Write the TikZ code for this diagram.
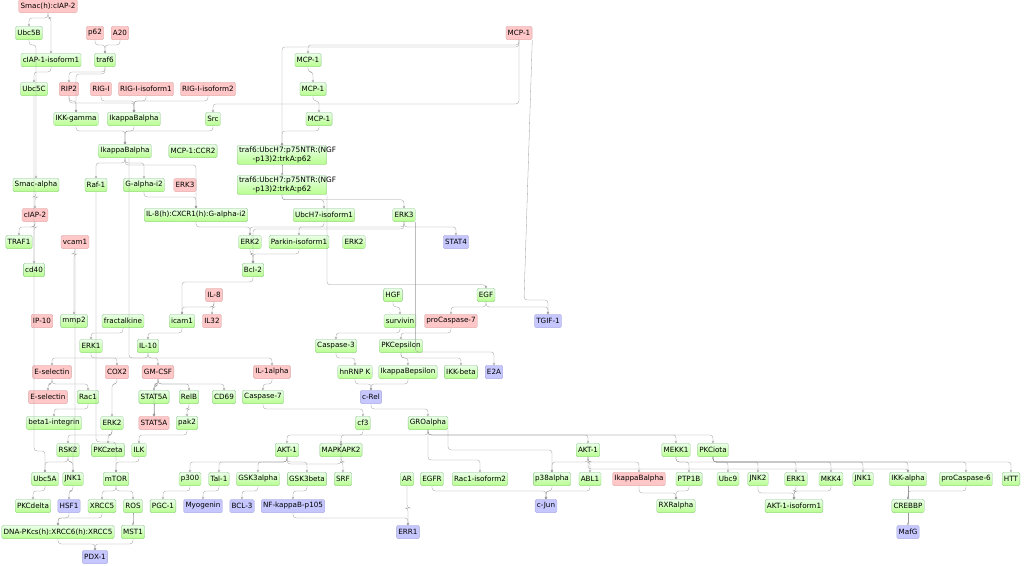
\documentclass[tikz,border=0pt]{standalone}
\usepackage{fontspec}
\setmainfont{DejaVu Sans}
\usetikzlibrary{arrows.meta}
\begin{document}
\begin{tikzpicture}[x=1pt,y=-1pt,
 base/.style={rounded corners=1.5pt,inner sep=1.8pt,minimum height=13.5pt,font=\fontsize{7.2}{8}\selectfont,line width=0.3pt},
 g/.style={base,top color=green!8!white,bottom color=green!50!lime!45!white,draw=green!45!black!45},
 r/.style={base,fill=red!22!white,draw=red!50!black!35},
 b/.style={base,fill=blue!22!white,draw=blue!50!black!35},
 gg/.style={g,align=center,font=\fontsize{7.4}{8.4}\selectfont,text width=86pt},
 edge/.style={draw=black!40,line width=0.3pt,rounded corners=3pt,-{Circle[open,length=2.4pt]}},
 edgeb/.style={draw=black!40,line width=0.3pt,rounded corners=3pt,-{Circle[length=2.4pt]}}]
\useasboundingbox (0,0) rectangle (1024,565);
\node[r] (smacc) at (48,6) {Smac(h):cIAP-2};
\node[g] (ubc5b) at (29,33) {Ubc5B};
\node[r] (p62) at (95,33) {p62};
\node[r] (a20) at (120,33) {A20};
\node[r] (mcp1r) at (519,33) {MCP-1};
\node[g] (ciap1) at (51,60) {cIAP-1-isoform1};
\node[g] (traf6) at (105,60) {traf6};
\node[g] (mcpa) at (308,60) {MCP-1};
\node[g] (ubc5c) at (34,89) {Ubc5C};
\node[r] (rip2) at (69,89) {RIP2};
\node[r] (rigi) at (101,89) {RIG-I};
\node[r] (rigi1) at (146,89) {RIG-I-isoform1};
\node[r] (rigi2) at (208,89) {RIG-I-isoform2};
\node[g] (mcpb) at (313,89) {MCP-1};
\node[g] (ikkg) at (76,119) {IKK-gamma};
\node[g] (ikba1) at (134,119) {IkappaBalpha};
\node[g] (src) at (213,119) {Src};
\node[g] (mcpc) at (319,119) {MCP-1};
\node[g] (ikba2) at (125,151) {IkappaBalpha};
\node[g] (ccr2) at (193,151) {MCP-1:CCR2};
\node[gg] (tr1) at (282,155) {traf6:UbcH7:p75NTR:(NGF\\-p13)2:trkA:p62};
\node[g] (smaca) at (36,185) {Smac-alpha};
\node[g] (raf1) at (96,185) {Raf-1};
\node[g] (gai2) at (144,185) {G-alpha-i2};
\node[r] (erk3r) at (185,185) {ERK3};
\node[gg] (tr2) at (282,185) {traf6:UbcH7:p75NTR:(NGF\\-p13)2:trkA:p62};
\node[r] (ciap2) at (35,215) {cIAP-2};
\node[g] (il8c) at (196,215) {IL-8(h):CXCR1(h):G-alpha-i2};
\node[g] (ubch7) at (324,215) {UbcH7-isoform1};
\node[g] (erk3) at (404,215) {ERK3};
\node[g] (traf1) at (19,242) {TRAF1};
\node[r] (vcam1) at (75,242) {vcam1};
\node[g] (erk2a) at (250,242) {ERK2};
\node[g] (parkin) at (299,242) {Parkin-isoform1};
\node[g] (erk2b) at (354,242) {ERK2};
\node[b] (stat4) at (456,242) {STAT4};
\node[g] (cd40) at (34,270) {cd40};
\node[g] (bcl2) at (253,270) {Bcl-2};
\node[r] (il8) at (214,295) {IL-8};
\node[g] (hgf) at (393,295) {HGF};
\node[g] (egf) at (486,295) {EGF};
\node[r] (ip10) at (42,321) {IP-10};
\node[g] (mmp2) at (74,321) {mmp2};
\node[g] (fract) at (123,321) {fractalkine};
\node[g] (icam1) at (182,321) {icam1};
\node[r] (il32) at (212,321) {IL32};
\node[g] (surv) at (400,321) {survivin};
\node[r] (procas7) at (451,321) {proCaspase-7};
\node[b] (tgif) at (548,321) {TGIF-1};
\node[g] (erk1a) at (91,346) {ERK1};
\node[g] (il10) at (148,346) {IL-10};
\node[g] (cas3) at (336,346) {Caspase-3};
\node[g] (pkce) at (401,346) {PKCepsilon};
\node[r] (esel1) at (52,372) {E-selectin};
\node[r] (cox2) at (117,372) {COX2};
\node[r] (gmcsf) at (158,372) {GM-CSF};
\node[r] (il1a) at (272,372) {IL-1alpha};
\node[g] (hnrnp) at (355,372) {hnRNP K};
\node[g] (ikbe) at (408,372) {IkappaBepsilon};
\node[g] (ikkb) at (461,372) {IKK-beta};
\node[b] (e2a) at (494,372) {E2A};
\node[r] (esel2) at (48,397) {E-selectin};
\node[g] (rac1) at (88,397) {Rac1};
\node[g] (stat5g) at (154,397) {STAT5A};
\node[g] (relb) at (189,397) {RelB};
\node[g] (cd69) at (224,397) {CD69};
\node[g] (cas7) at (263,397) {Caspase-7};
\node[b] (crel) at (371,397) {c-Rel};
\node[g] (b1int) at (54,423) {beta1-integrin};
\node[g] (erk2c) at (112,423) {ERK2};
\node[r] (stat5r) at (154,423) {STAT5A};
\node[g] (pak2) at (187,423) {pak2};
\node[g] (cf3) at (363,423) {cf3};
\node[g] (gro) at (428,423) {GROalpha};
\node[g] (rsk2) at (68,450) {RSK2};
\node[g] (pkcz) at (108,450) {PKCzeta};
\node[g] (ilk) at (139,450) {ILK};
\node[g] (akt1a) at (287,450) {AKT-1};
\node[g] (mapk2) at (341,450) {MAPKAPK2};
\node[g] (akt1b) at (588,450) {AKT-1};
\node[g] (mekk1) at (676,450) {MEKK1};
\node[g] (pkci) at (713,450) {PKCiota};
\node[g] (ubc5a) at (45,479) {Ubc5A};
\node[g] (jnk1a) at (73,479) {JNK1};
\node[g] (mtor) at (116,479) {mTOR};
\node[g] (p300) at (190,479) {p300};
\node[g] (tal1) at (219,479) {Tal-1};
\node[g] (gsk3a) at (258,479) {GSK3alpha};
\node[g] (gsk3b) at (307,479) {GSK3beta};
\node[g] (srf) at (343,479) {SRF};
\node[g] (ar) at (407,479) {AR};
\node[g] (egfr) at (432,479) {EGFR};
\node[g] (rac1i2) at (480,479) {Rac1-isoform2};
\node[g] (p38a) at (552,479) {p38alpha};
\node[g] (abl1) at (590,479) {ABL1};
\node[r] (ikbar) at (639,479) {IkappaBalpha};
\node[g] (ptp1b) at (689,479) {PTP1B};
\node[g] (ubc9) at (728,479) {Ubc9};
\node[g] (jnk2) at (758,479) {JNK2};
\node[g] (erk1b) at (796,479) {ERK1};
\node[g] (mkk4) at (831,479) {MKK4};
\node[g] (jnk1b) at (863,479) {JNK1};
\node[g] (ikka) at (908,479) {IKK-alpha};
\node[g] (procas6) at (966,479) {proCaspase-6};
\node[g] (htt) at (1011,479) {HTT};
\node[g] (pkcd) at (33,506) {PKCdelta};
\node[b] (hsf1) at (69,506) {HSF1};
\node[g] (xrcc5) at (102,506) {XRCC5};
\node[g] (ros) at (133,506) {ROS};
\node[g] (pgc1) at (163,506) {PGC-1};
\node[b] (myog) at (203,506) {Myogenin};
\node[b] (bcl3) at (242,506) {BCL-3};
\node[b] (nfkb) at (293,506) {NF-kappaB-p105};
\node[b] (cjun) at (546,506) {c-Jun};
\node[g] (rxra) at (676,506) {RXRalpha};
\node[g] (akti1) at (794,506) {AKT-1-isoform1};
\node[g] (crebbp) at (908,506) {CREBBP};
\node[g] (dnapk) at (58,532) {DNA-PKcs(h):XRCC6(h):XRCC5};
\node[g] (mst1) at (133,532) {MST1};
\node[b] (err1) at (408,532) {ERR1};
\node[b] (mafg) at (908,532) {MafG};
\node[b] (pdx1) at (95,557) {PDX-1};
% connectors
\foreach \a/\b in {smacc/ubc5b,smacc/ciap1,p62/traf6,a20/traf6,ciap1/ubc5c,traf6/rip2,rip2/ikkg,rigi/ikba1,rigi1/ikba1,rigi2/ikba1,ikkg/ikba2,ikba1/ikba2,src/ikba2,mcpc/tr1,mcp1r/mcpa,mcpa/mcpb,mcpb/mcpc,ikba2/gai2,ikba2/raf1,tr1/tr2,ubc5b/smaca,smaca/ciap2,ciap2/traf1,ciap2/cd40,gai2/il8c,tr2/ubch7,tr2/erk3,il8c/erk2a,ubch7/erk2a,erk3/parkin,erk3/stat4,erk2a/bcl2,parkin/bcl2,vcam1/mmp2,bcl2/icam1,il8/il32,il8/icam1,hgf/surv,egf/tgif,egf/procas7,fract/erk1a,icam1/il10,surv/cas3,procas7/pkce,erk1a/cox2,il10/gmcsf,il10/esel1,cas3/hnrnp,pkce/ikbe,pkce/ikkb,esel1/esel2,esel1/rac1,gmcsf/stat5g,gmcsf/relb,gmcsf/cd69,il1a/cas7,hnrnp/crel,ikbe/crel,cox2/erk2c,stat5g/stat5r,relb/pak2,cas7/cf3,crel/gro,rac1/b1int,erk2c/rsk2,erk2c/pkcz,pak2/ilk,cf3/akt1a,gro/mapk2,gro/akt1b,gro/mekk1,gro/pkci,rsk2/ubc5a,rsk2/jnk1a,ilk/mtor,akt1a/p300,akt1a/tal1,akt1a/gsk3a,akt1a/gsk3b,mapk2/srf,akt1b/p38a,akt1b/abl1,akt1b/ikbar,mekk1/ptp1b,mekk1/ubc9,pkci/jnk2,pkci/erk1b,pkci/mkk4,pkci/jnk1b,pkci/ikka,pkci/procas6,pkci/htt,ubc5a/pkcd,jnk1a/hsf1,mtor/xrcc5,mtor/ros,p300/pgc1,tal1/myog,gsk3a/bcl3,gsk3b/nfkb,p38a/cjun,abl1/cjun,ptp1b/rxra,erk1b/akti1,mkk4/akti1,ikka/crebbp,procas6/crebbp,hsf1/dnapk,xrcc5/dnapk,ros/mst1,nfkb/err1,crebbp/mafg,dnapk/pdx1,mst1/pdx1,egfr/cjun}
 \draw[edge] (\a.south) -- ++(0,5) -| (\b.north);
\foreach \a/\b in {rip2/ikba1,traf6/ikkg,ikba2/il8c,mcp1r/tr1,erk3/bcl2,gmcsf/stat5r,akt1a/mapk2,ikbar/rxra,jnk2/akti1}
 \draw[edgeb] (\a.south) -- ++(0,7) -| (\b.north);
% long trunks
\draw[edge] (mcp1r.south) -- ++(0,64) -| (src.north);
\draw[edge] (mcp1r.south east) -- (524,300) -| (tgif.north);
\draw[edge] (ikba2.south) ++(4,0) -- ++(0,200) -| (il1a.north);
\draw[edge] (erk3.south east) -- ++(0,130) -| (e2a.north);
\draw[edge] (tr2.south east) -- ++(0,90) -| (egf.north);
\draw[edge] (ubc5c.south) -- ++(0,355) -| (ubc5a.north);
\draw[edge] (vcam1.south) -- ++(0,200) -| (jnk1a.north);
\draw[edge] (raf1.south) -- ++(0,250) -| (mtor.north);
\draw[edge] (gro.south) -- ++(0,30) -| (rac1i2.north);
\draw[edge] (gro.south east) -- ++(0,20) -| (p38a.north);
\draw[edge] (akt1b.south) -- ++(0,12) -| (ikka.north);
\draw[edge] (ar.south) -- ++(0,22) -| (err1.north);
\end{tikzpicture}
\end{document}
